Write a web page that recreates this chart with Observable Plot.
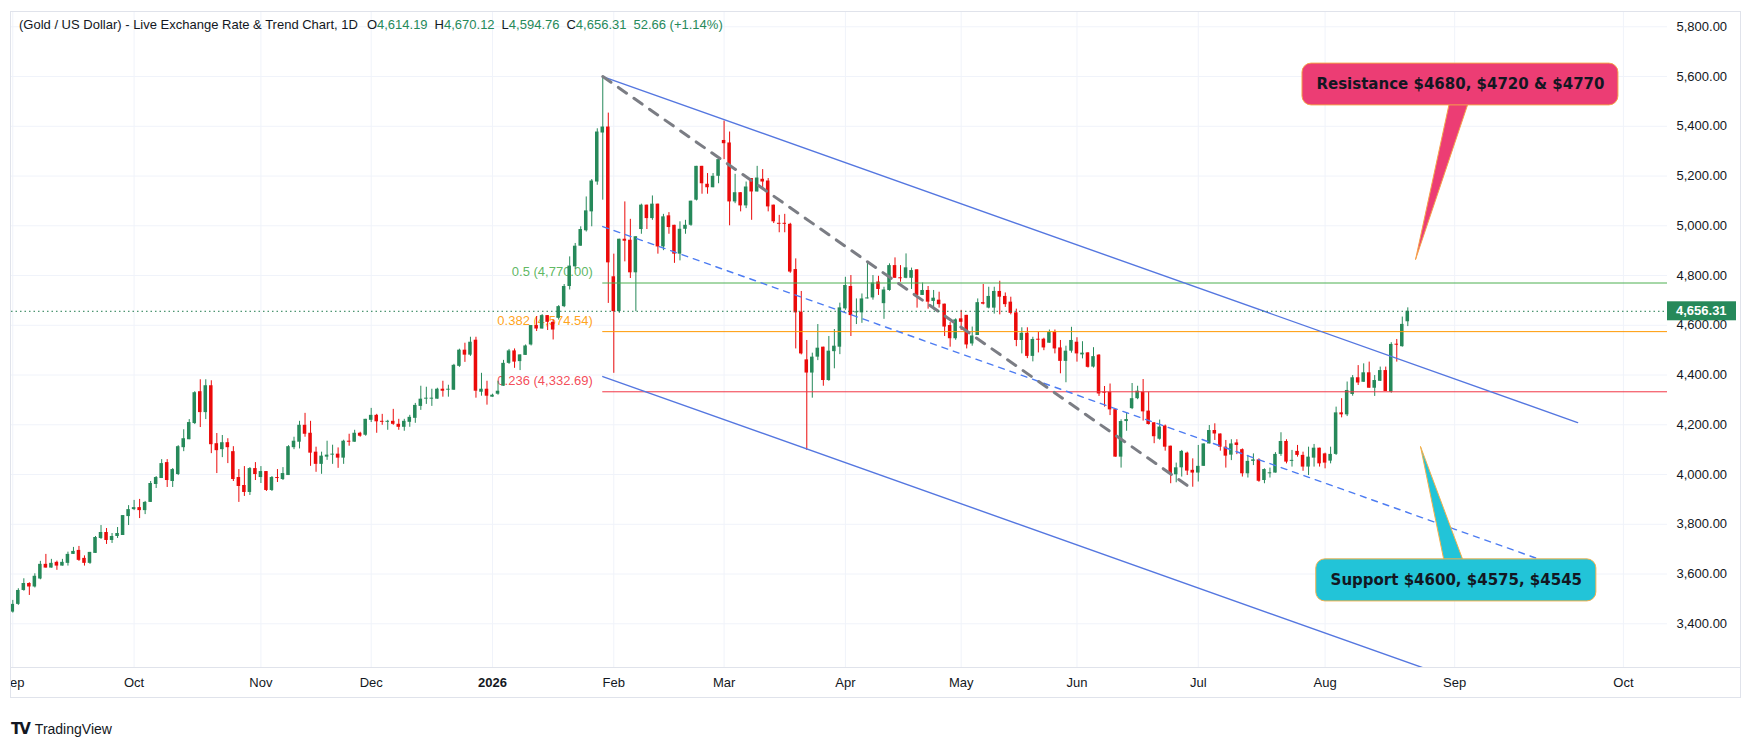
<!DOCTYPE html>
<html>
<head>
<meta charset="utf-8">
<script src="https://cdn.jsdelivr.net/npm/d3@7"></script>
<script src="https://cdn.jsdelivr.net/npm/@observablehq/plot@0.6"></script>
<style>
  html, body { margin: 0; padding: 0; background: #ffffff; }
  #wrap { position: relative; width: 1744px; height: 738px; overflow: hidden; font-family: "Liberation Sans", Arial, sans-serif; }
  #chart { position: absolute; left: 10px; top: 11px; }
  #frame { position: absolute; left: 10px; top: 11px; width: 1731px; height: 687px; box-sizing: border-box; border: 1px solid #e0e3eb; pointer-events: none; }
  #axisline { position: absolute; left: 10px; top: 667px; width: 1731px; height: 1px; background: #e0e3eb; }
  #header { position: absolute; left: 19px; top: 17px; font-size: 13px; color: #131722; white-space: pre; }
  #header .v { color: #26895a; }
  #header .g { margin-left: 7px; }
  #logo { position: absolute; left: 11px; top: 720px; font-size: 14px; color: #131722; display: flex; align-items: center; }
  #logo .mark { font-family: "DejaVu Sans", sans-serif; font-weight: 900; font-size: 15px; letter-spacing: -2px; margin-right: 6px; }
</style>
</head>
<body>
<div id="wrap">
  <div id="chart"></div>
  <div id="axisline"></div>
  <div id="frame"></div>
  <div id="header"></div>
  <div id="logo"><span class="mark">TV</span><span>TradingView</span></div>
</div>
<script>
// ---------- data (daily OHLC, bar index 0 = 1 Sep 2025) ----------
const open = [
3447,3478,3534,3562,3548,3580,3639,3624,3647,3632,
3643,3679,3695,3663,3643,3683,3743,3767,3735,3751,
3755,3831,3859,3867,3855,3888,3960,3984,4048,3972,
4000,4108,4140,4205,4333,4249,4357,4124,4100,4128,
4092,3988,3956,3928,4024,3988,4012,3936,3988,3980,
3996,4108,4130,4198,4166,4090,4041,4070,4078,4082,
4066,4134,4130,4166,4158,4218,4238,4214,4210,4214,
4202,4190,4210,4226,4274,4303,4303,4303,4343,4339,
4339,4435,4500,4480,4540,4331,4343,4311,4323,4355,
4447,4497,4454,4479,4521,4599,4585,4639,4612,4628,
4675,4756,4835,4918,4980,5056,5176,5373,5397,4795,
4655,4946,4942,4811,4985,5083,5029,5087,4915,5040,
5002,4886,4986,5002,5103,5239,5167,5153,5199,5343,
5333,5096,5133,5080,5190,5136,5187,5180,5083,5009,
5010,5006,4824,4653,4461,4408,4472,4512,4378,4494,
4512,4666,4756,4650,4650,4706,4710,4774,4687,4740,
4840,4791,4789,4789,4823,4720,4740,4696,4701,4685,
4599,4546,4626,4640,4525,4559,4691,4669,4669,4736,
4716,4693,4650,4539,4568,4475,4544,4544,4528,4571,
4509,4455,4496,4532,4481,4489,4432,4480,4331,4331,
4261,4070,4213,4265,4305,4331,4255,4208,4142,4195,
4114,3999,4027,4086,4017,4006,4033,4123,4177,4163,
4110,4078,4127,4100,4003,4053,4059,3976,4003,4006,
4081,4133,4053,4093,4077,4030,4066,4106,4083,4054,
4081,4248,4240,4322,4389,4371,4409,4347,4375,4418,
4331,4524,4514,4614.19];
const high = [
3494,3541,3581,3565,3601,3651,3679,3659,3652,3659,
3688,3707,3711,3673,3687,3751,3795,3783,3763,3787,
3835,3875,3896,3900,3892,3972,3992,4060,4060,4024,
4116,4180,4221,4333,4381,4381,4377,4165,4157,4144,
4112,4020,4032,4028,4048,4032,4012,3992,4020,4028,
4116,4150,4214,4246,4214,4110,4090,4134,4118,4107,
4138,4162,4178,4170,4222,4266,4242,4242,4218,4262,
4222,4222,4238,4286,4355,4351,4343,4347,4375,4359,
4443,4504,4528,4552,4552,4407,4375,4323,4375,4459,
4503,4505,4481,4521,4599,4635,4643,4639,4621,4679,
4764,4875,4929,4996,5116,5186,5390,5600,5453,4886,
4946,5096,5026,4956,5087,5083,5120,5087,5046,5053,
5002,5016,5022,5099,5239,5239,5210,5210,5266,5421,
5377,5207,5133,5176,5190,5239,5226,5190,5083,5042,
5046,5010,4867,4736,4539,4488,4603,4512,4555,4583,
4689,4793,4800,4706,4726,4856,4800,4797,4753,4847,
4871,4840,4887,4830,4823,4770,4756,4740,4733,4685,
4611,4626,4660,4640,4593,4706,4764,4753,4753,4777,
4730,4713,4665,4590,4590,4552,4571,4548,4581,4581,
4539,4516,4592,4550,4534,4490,4510,4482,4354,4364,
4261,4220,4248,4366,4355,4382,4331,4208,4219,4199,
4114,4046,4097,4090,4063,4117,4123,4197,4204,4163,
4137,4140,4140,4103,4077,4083,4063,4023,4026,4088,
4168,4140,4097,4117,4090,4110,4121,4106,4086,4110,
4271,4305,4372,4398,4438,4445,4452,4398,4432,4432,
4530,4543,4633,4670.12];
const low = [
3443,3474,3531,3514,3544,3577,3624,3624,3615,3632,
3632,3679,3651,3632,3639,3683,3739,3719,3723,3743,
3755,3795,3855,3823,3839,3888,3944,3984,3948,3948,
3996,4092,4140,4201,4189,4221,4084,4004,4068,4044,
3972,3888,3912,3916,3976,3964,3932,3932,3968,3976,
3996,4100,4103,4150,4033,4009,4001,4057,4041,4025,
4041,4114,4130,4150,4154,4209,4166,4198,4178,4198,
4178,4174,4190,4206,4258,4282,4274,4303,4311,4311,
4339,4431,4451,4475,4307,4315,4279,4311,4319,4355,
4443,4427,4418,4479,4517,4575,4585,4579,4541,4621,
4671,4742,4824,4918,4975,4996,5163,5103,4688,4407,
4648,4855,4788,4655,4966,4985,5022,4886,4900,4966,
4849,4859,4966,4998,5100,5127,5127,5153,5169,5266,
5000,5089,5056,5069,5022,5136,5147,5056,5009,4972,
4972,4809,4505,4481,4097,4307,4458,4355,4375,4425,
4482,4660,4555,4603,4608,4706,4701,4720,4624,4737,
4789,4773,4787,4744,4669,4720,4665,4662,4669,4555,
4512,4540,4579,4505,4516,4559,4682,4666,4645,4642,
4672,4642,4514,4485,4466,4453,4489,4498,4528,4485,
4405,4369,4488,4452,4465,4428,4428,4314,4271,4237,
4070,4026,4174,4261,4301,4215,4199,4124,4138,4094,
3963,3967,3990,3996,3949,3970,4033,4123,4137,4094,
4026,4056,4080,3990,3986,4036,3969,3963,3986,4006,
4073,4043,4030,4070,4013,3996,4030,4030,4023,4043,
4077,4228,4233,4315,4358,4371,4347,4314,4374,4334,
4327,4452,4512,4594.76];
const close = [
3478,3534,3562,3548,3591,3639,3624,3643,3632,3647,
3679,3691,3655,3643,3687,3747,3767,3735,3751,3763,
3835,3859,3867,3855,3888,3964,3988,4044,3976,4020,
4112,4144,4209,4329,4249,4357,4120,4096,4128,4108,
3980,3952,3928,4024,4000,4012,3936,3988,3984,4004,
4112,4134,4198,4162,4086,4041,4074,4078,4080,4066,
4134,4130,4166,4154,4222,4238,4212,4210,4214,4202,
4190,4214,4230,4278,4303,4307,4307,4343,4335,4343,
4439,4500,4480,4532,4335,4343,4315,4319,4335,4447,
4497,4452,4481,4517,4599,4585,4639,4612,4581,4675,
4756,4838,4918,4985,5060,5180,5377,5397,4851,4655,
4946,4938,4811,4956,5083,5029,5087,4915,5036,4993,
4886,4986,5002,5099,5239,5169,5153,5199,5266,5330,
5096,5133,5080,5156,5136,5192,5176,5076,5016,5006,
5006,4814,4650,4485,4408,4472,4508,4378,4496,4516,
4670,4760,4639,4654,4706,4710,4770,4744,4742,4840,
4789,4787,4831,4820,4720,4740,4693,4709,4683,4593,
4546,4622,4612,4521,4557,4691,4685,4716,4736,4713,
4683,4648,4539,4568,4475,4543,4540,4509,4571,4505,
4455,4496,4539,4485,4488,4431,4474,4324,4327,4260,
4070,4213,4221,4305,4335,4252,4201,4152,4191,4110,
4003,4027,4093,4014,4006,4033,4123,4177,4163,4110,
4074,4123,4117,4003,4053,4059,3973,4020,4007,4081,
4133,4050,4057,4077,4030,4070,4106,4043,4046,4081,
4248,4240,4338,4389,4368,4409,4347,4378,4418,4334,
4523,4520,4603.65,4656.31];

// month tick labels and the bar index they sit on
const monthLabels = ["Sep","Oct","Nov","Dec","2026","Feb","Mar","Apr","May","Jun","Jul","Aug","Sep","Oct"];
const monthIndex  = [0, 22, 45, 65, 87, 109, 129, 151, 172, 193, 215, 238, 261.5, 292.1];
const priceTicks  = [3400,3600,3800,4000,4200,4400,4600,4800,5000,5200,5400,5600,5800];

// Fibonacci retracement levels
const fibRatios = ["0.236","0.382","0.5"];
const fibValues = [4332.69, 4574.54, 4770.00];
const fibStart  = 107;

// drawn trend channel (bar index, price)
const upperChannel = [[107, 5600], [283.8, 4209]];
const middleChannel = [[107, 4997], [282.1, 3618]];
const lowerChannel = [[107, 4394], [284, 3001]];
const peakTrend = [[107, 5600], [213, 3956]];

// callout texts
const resistanceText = "Resistance $4680, $4720 & $4770";
const supportText = "Support $4600, $4575, $4545";

// ---------- styles ----------
const UP = "#26895a", DOWN = "#eb0a0a";
const fibColor = {"0.236": "#f23645", "0.382": "#ff9800", "0.5": "#4caf50"};
const xDomain = [-0.236, 300.1];
const yDomain = [3224.3, 5861.5];

const bars = open.map((o, i) => ({i, o, h: high[i], l: low[i], c: close[i], up: close[i] >= o}));
const last = bars[bars.length - 1];
const prev = bars[bars.length - 2];
const fmt2 = d3.format(",.2f");
const fibs = fibRatios.map((r, k) => ({r, v: fibValues[k], label: `${r} (${fmt2(fibValues[k])})`}));

const labelOf = new Map(monthIndex.map((m, k) => [m, monthLabels[k]]));
const normalTicks = monthIndex.filter((m, k) => monthLabels[k] !== "2026");
const boldTicks = monthIndex.filter((m, k) => monthLabels[k] === "2026");

const pt = d => d[0], pv = d => d[1];

// callout geometry (bar index / price space)
const resBox = [{x1: 233.9, x2: 291.2, y1: 5484, y2: 5652}];
const resPtr = [[260.5, 5490], [254.4, 4864], [263.9, 5490]];
const supBox = [{x1: 236.4, x2: 287.2, y1: 3490, y2: 3659}];
const supPtr = [[259.6, 3650], [255.3, 4113], [263.1, 3650]];

const marks = [
  Plot.gridX(monthIndex, {stroke: "#f0f3fa", strokeOpacity: 1}),
  Plot.gridY(priceTicks, {stroke: "#f0f3fa", strokeOpacity: 1}),
  Plot.axisX(normalTicks, {tickSize: 0, tickPadding: 10, fontSize: 13, tickFormat: d => labelOf.get(d), label: null, fill: "#131722"}),
  Plot.axisX(boldTicks, {tickSize: 0, tickPadding: 10, fontSize: 13, fontWeight: "bold", tickFormat: d => labelOf.get(d), label: null, fill: "#131722"}),
  Plot.axisY(priceTicks, {anchor: "right", tickSize: 0, tickPadding: 9, fontSize: 13, tickFormat: fmt2, label: null, fill: "#131722"})
];
// fib labels (under candles)
fibs.forEach(f => marks.push(Plot.text([f], {x: () => fibStart, y: "v", text: "label", textAnchor: "end", dx: -10, dy: -11, fontSize: 13, fill: fibColor[f.r], fillOpacity: 0.9})));
// candles
marks.push(
  Plot.ruleX(bars, {x: "i", y1: "l", y2: "h", stroke: d => d.up ? UP : DOWN, strokeWidth: 1}),
  Plot.rect(bars, {
    x1: d => d.i - 0.32, x2: d => d.i + 0.32,
    y1: d => Math.min(d.o, d.c),
    y2: d => Math.max(Math.max(d.o, d.c), Math.min(d.o, d.c) + 4),
    fill: d => d.up ? UP : DOWN
  })
);
// fib lines
fibs.forEach(f => marks.push(Plot.ruleY([f], {y: "v", x1: () => fibStart, x2: () => xDomain[1], stroke: fibColor[f.r], strokeWidth: 1})));
// channel + trend
marks.push(
  Plot.line(upperChannel, {x: pt, y: pv, stroke: "#5577e0", strokeWidth: 1.4, clip: true}),
  Plot.line(lowerChannel, {x: pt, y: pv, stroke: "#5577e0", strokeWidth: 1.4, clip: true}),
  Plot.line(middleChannel, {x: pt, y: pv, stroke: "#4d7cf2", strokeWidth: 1.4, strokeDasharray: "6,6", clip: true}),
  Plot.line(peakTrend, {x: pt, y: pv, stroke: "#7b7d84", strokeWidth: 3, strokeDasharray: "10,9", clip: true}),
  Plot.ruleY([last.c], {stroke: "#1f7a4d", strokeWidth: 1, strokeDasharray: "1.5,3"})
);
// callouts
marks.push(
  Plot.line(resPtr, {x: pt, y: pv, fill: "#ec3d74", stroke: "#f5a24a", strokeWidth: 1}),
  Plot.rect(resBox, {x1: "x1", x2: "x2", y1: "y1", y2: "y2", rx: 9, fill: "#ec3d74", stroke: "#f5a24a", strokeWidth: 1}),
  Plot.text([resistanceText], {x: () => (resBox[0].x1 + resBox[0].x2) / 2, y: () => (resBox[0].y1 + resBox[0].y2) / 2, text: d => d, fontFamily: "DejaVu Sans", fontWeight: "bold", fontSize: 15, fill: "#131722"}),
  Plot.line(supPtr, {x: pt, y: pv, fill: "#22c4d8", stroke: "#f5b04a", strokeWidth: 1}),
  Plot.rect(supBox, {x1: "x1", x2: "x2", y1: "y1", y2: "y2", rx: 9, fill: "#22c4d8", stroke: "#f5b04a", strokeWidth: 1}),
  Plot.text([supportText], {x: () => (supBox[0].x1 + supBox[0].x2) / 2, y: () => (supBox[0].y1 + supBox[0].y2) / 2, text: d => d, fontFamily: "DejaVu Sans", fontWeight: "bold", fontSize: 15, fill: "#131722"})
);

const chart = Plot.plot({
  width: 1731, height: 687,
  marginLeft: 1, marginRight: 74, marginTop: 0, marginBottom: 31,
  x: {type: "linear", domain: xDomain, axis: null},
  y: {type: "linear", domain: yDomain, axis: null},
  style: {fontFamily: "Liberation Sans, Arial, sans-serif", fontSize: "13px", color: "#131722", background: "transparent"},
  marks
});
document.getElementById("chart").appendChild(chart);

// last-price tag on the price axis, placed through the y scale
const ys = chart.scale("y");
const yPix = ys.apply(last.c);
const svg = d3.select(chart);
svg.append("rect").attr("x", 1657).attr("y", yPix - 9.5).attr("width", 69).attr("height", 19).attr("fill", UP);
svg.append("text").attr("x", 1666).attr("y", yPix).attr("dy", "0.35em").attr("fill", "#ffffff")
  .attr("text-anchor", "start")
  .attr("font-size", 13).attr("font-weight", "bold").attr("font-family", "Liberation Sans, Arial, sans-serif").text(fmt2(last.c));

// legend header
const chg = last.c - prev.c;
const pct = chg / prev.c * 100;
document.getElementById("header").innerHTML =
  `<span>(Gold / US Dollar) - Live Exchange Rate &amp; Trend Chart, 1D</span>` +
  `<span class="g" style="margin-left:9px">O</span><span class="v">${fmt2(last.o)}</span>` +
  `<span class="g">H</span><span class="v">${fmt2(last.h)}</span>` +
  `<span class="g">L</span><span class="v">${fmt2(last.l)}</span>` +
  `<span class="g">C</span><span class="v">${fmt2(last.c)}</span>` +
  `<span class="g v">${chg.toFixed(2)} (${chg >= 0 ? "+" : ""}${pct.toFixed(2)}%)</span>`;
</script>
</body>
</html>
